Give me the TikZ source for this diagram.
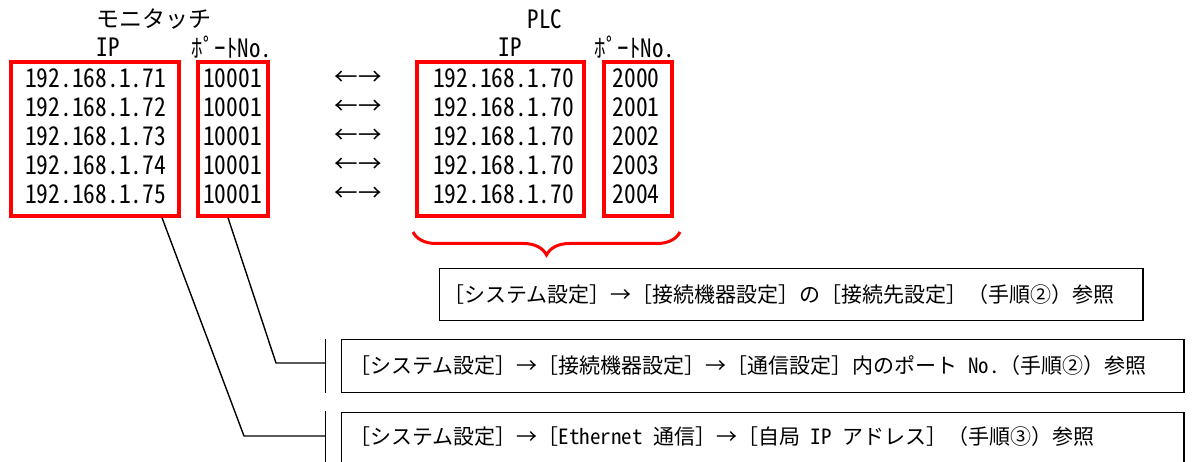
\documentclass[tikz,border=0pt]{standalone}
\usepackage{fontspec}
\usepackage{graphicx}
\setmainfont{Noto Sans CJK JP}
\newfontfamily\hwfont[RawFeature=+hwid]{Noto Sans CJK JP}
\usetikzlibrary{decorations.pathreplacing}
\newcommand\tallnum[1]{\scalebox{1}[1.1]{\hwfont #1}}
\newcommand\hwtext[1]{{\hwfont #1}}
\begin{document}
\begin{tikzpicture}[x=1pt,y=-1pt,
  redbox/.style={draw=red,line width=4pt,inner sep=0pt},
  blackbox/.style={draw=black,line width=1.6pt,inner sep=0pt},
  num/.style={inner sep=0pt,font=\fontsize{23.5}{23.5}\selectfont},
  head/.style={inner sep=0pt,font=\fontsize{23}{23}\selectfont},
  note/.style={inner sep=0pt,anchor=west,font=\fontsize{21}{21}\selectfont},
  leader/.style={line width=1.4pt}]
\useasboundingbox (0,0) rectangle (1192,462);
% headings
\node[head] (mtitle) at (154,19) {モニタッチ};
\node[head] (mip) at (108,47) {\tallnum{IP}};
\node[head] (mport) at (232,47) {\tallnum{ﾎﾟｰﾄNo.}};
\node[head] (ptitle) at (545,19) {\tallnum{PLC}};
\node[head] (pip) at (510,47) {\tallnum{IP}};
\node[head] (pport) at (635,47) {\tallnum{ﾎﾟｰﾄNo.}};
% red boxes
\node[redbox,minimum width=167.5,minimum height=154] (b1) at (94.75,138.7) {};
\node[redbox,minimum width=70.5,minimum height=154] (b2) at (232.75,138.7) {};
\node[redbox,minimum width=167.5,minimum height=154] (b3) at (500.25,138.7) {};
\node[redbox,minimum width=68,minimum height=154] (b4) at (637.5,138.7) {};
% rows
\foreach \i/\y in {1/78,2/107,3/136,4/165,5/194}{
  \pgfmathtruncatemacro\mm{70+\i}
  \pgfmathtruncatemacro\pp{1999+\i}
  \node[num] (mipr\i) at (95.5,\y) {\tallnum{192.168.1.\mm}};
  \node[num] (mport\i) at (232.5,\y) {\tallnum{10001}};
  \node[num] (arr\i) at (358,\y) {←→};
  \node[num] (pipr\i) at (503.5,\y) {\tallnum{192.168.1.70}};
  \node[num] (pport\i) at (636,\y) {\tallnum{\pp}};
}
% brace
\draw[red,line width=3pt,decorate,decoration={brace,amplitude=23pt}] (680,232) -- (413,232);
% notes
\draw[blackbox] (439.5,268.5) rectangle (1143,320.5);
\node[note] (nA) at (443,294.5) {［システム設定］→［接続機器設定］の［接続先設定］（手順②）参照};
\draw[blackbox] (341.5,339.5) rectangle (1184,392.5);
\node[note] (nB) at (349,366) {［システム設定］→［接続機器設定］→［通信設定］内のポート\hwtext{ No.}（手順②）参照};
\draw[blackbox] (341.5,412.5) rectangle (1184,475);
\node[note] (nC) at (349,437) {［システム設定］→［\hwtext{Ethernet }通信］→［自局\hwtext{ IP }アドレス］（手順③）参照};
% leaders
\coordinate (kB) at (276,363);
\coordinate (eB) at (325.5,363);
\coordinate (kC) at (244,436);
\coordinate (eC) at (325.5,436);
\draw[leader] ([xshift=-4.75pt]b2.south) -- (kB) -- (eB);
\draw[leader] ([xshift=67.25pt]b1.south) -- (kC) -- (eC);
\draw[leader] (325.5,339) -- (325.5,393);
\draw[leader] (325.5,411) -- (325.5,475);
\end{tikzpicture}
\end{document}
